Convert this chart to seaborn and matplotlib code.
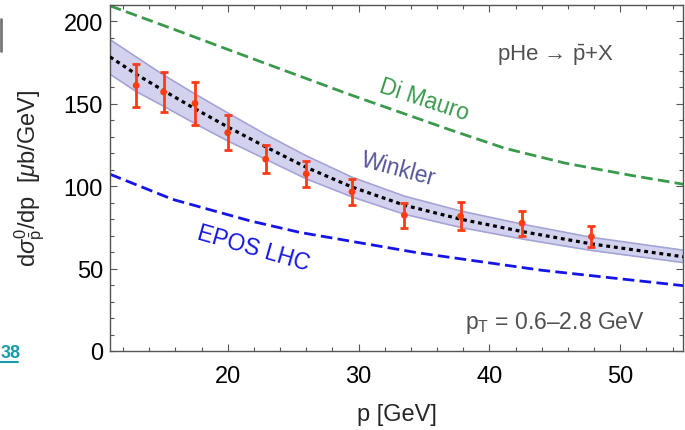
import matplotlib
matplotlib.use("Agg")
import matplotlib.pyplot as plt
import seaborn as sns
import pandas as pd
from matplotlib.lines import Line2D

# ---------------- data ----------------
data_p = [13.0, 15.1, 17.5, 20.0, 22.9, 26.0, 29.5, 33.5, 37.8, 42.5, 47.8]
data_val = [161.2, 157.2, 150.3, 132.5, 116.4, 107.5, 96.6, 82.4, 81.8, 77.6, 69.4]
data_err = [13.0, 12.0, 13.0, 10.5, 8.4, 8.0, 8.0, 7.5, 8.5, 7.6, 6.4]

winkler_p = [11, 13, 15, 17.5, 20, 23, 26, 29.5, 33.5, 37.8, 42.5, 47.8, 55]
winkler_c = [178.5, 168, 158.5, 147, 136, 123.5, 111.5, 99.5, 88.5, 80, 72.5, 65, 57]
winkler_hi = [189, 178.5, 168, 156, 144.5, 131, 118.5, 105.5, 94, 85, 77, 69, 61]
winkler_lo = [168, 157.5, 149, 138, 127.5, 116, 104.5, 93.5, 83, 75, 68, 61, 53.5]

dimauro_p = [11, 15.8, 21.7, 29.2, 36.9, 41.2, 45.8, 50.9, 55]
dimauro_v = [209.5, 195.5, 178, 156, 134.5, 123, 114, 106.5, 101]

epos_p = [11, 15.8, 21.7, 25.5, 34.6, 38.2, 44, 55]
epos_v = [107.3, 92, 79, 72, 59.5, 55.5, 49, 39.5]

x_ticks = [20, 30, 40, 50]
y_ticks = [0, 50, 100, 150, 200]

# ---------------- style ----------------
sns.set_style("ticks")
plt.rcParams["font.family"] = ["Liberation Sans", "DejaVu Sans"]
plt.rcParams["mathtext.fontset"] = "custom"
plt.rcParams["mathtext.rm"] = "Liberation Sans"
plt.rcParams["mathtext.it"] = "Liberation Sans:italic"
plt.rcParams["mathtext.bf"] = "Liberation Sans:bold"

fig = plt.figure(figsize=(6.85, 4.31), dpi=100)
ax = fig.add_axes([110 / 685, 79 / 431, 573 / 685, 346 / 431])

GREEN = "#3a9a4c"
BLUE = "#1414e6"
BAND = "#d2d2ee"
BAND_EDGE = "#a4a4d6"
RED = "#ff3a14"
GRAY = "#555555"

# Winkler band
ax.fill_between(winkler_p, winkler_lo, winkler_hi, color=BAND, lw=0, zorder=1)
ax.plot(winkler_p, winkler_hi, color=BAND_EDGE, lw=1.2, zorder=1.5)
ax.plot(winkler_p, winkler_lo, color=BAND_EDGE, lw=1.2, zorder=1.5)

df_w = pd.DataFrame({"p": winkler_p, "v": winkler_c})
sns.lineplot(data=df_w, x="p", y="v", ax=ax, color="black", lw=2.3,
             linestyle=(0, (1.2, 1.2)), zorder=3)

df_d = pd.DataFrame({"p": dimauro_p, "v": dimauro_v})
sns.lineplot(data=df_d, x="p", y="v", ax=ax, color=GREEN, lw=2.0,
             linestyle=(0, (4.2, 1.9)), zorder=2)

df_e = pd.DataFrame({"p": epos_p, "v": epos_v})
sns.lineplot(data=df_e, x="p", y="v", ax=ax, color=BLUE, lw=2.0,
             linestyle=(0, (4.2, 1.9)), zorder=2)

# data points
ax.errorbar(data_p, data_val, yerr=data_err, fmt="none", ecolor=RED,
            elinewidth=2.0, capsize=2.8, capthick=2.0, zorder=4)
df_pts = pd.DataFrame({"p": data_p, "v": data_val})
sns.scatterplot(data=df_pts, x="p", y="v", ax=ax, color=RED, s=24,
                edgecolor="none", zorder=5)

# axes
ax.set_xlim(11, 54.8)
ax.set_ylim(0, 210)
ax.set_xticks(x_ticks)
ax.set_yticks(y_ticks)
ax.set_xticks(range(12, 56, 2), minor=True)
ax.set_yticks(range(0, 211, 10), minor=True)
ax.tick_params(which="both", direction="in", top=True, right=True,
               color=GRAY, width=0.8, labelsize=17, labelcolor="black")
ax.tick_params(which="major", length=5)
ax.tick_params(which="minor", length=3)
ax.tick_params(axis="x", which="major", pad=10)
ax.tick_params(axis="y", which="major", pad=5)
for s in ax.spines.values():
    s.set_color(GRAY)
    s.set_linewidth(1.0)

ax.set_xlabel("p [GeV]", fontsize=17)
ax.set_ylabel(r"$\mathregular{d}\sigma^{0}_{\bar{\mathregular{p}}}\mathregular{/dp}\ \ [\mu\mathregular{b/GeV}]$",
              fontsize=17)
ax.xaxis.set_label_coords(0.5, (352 - 404) / 346)
ax.yaxis.set_label_coords((47 - 110) / 573, 0.503)

# annotations
ax.text(0.548, 0.728, "Di Mauro", transform=ax.transAxes, color=GREEN,
        fontsize=16.5, rotation=-18, ha="center", va="center")
ax.text(0.504, 0.526, "Winkler", transform=ax.transAxes, color="#55559a",
        fontsize=16.5, rotation=-15, ha="center", va="center")
ax.text(0.251, 0.30, "EPOS LHC", transform=ax.transAxes, color=BLUE,
        fontsize=16.5, rotation=-16, ha="center", va="center")
ax.text(0.777, 0.858, r"pHe → $\bar{\mathregular{p}}$+X", transform=ax.transAxes,
        color="#505050", fontsize=16, ha="center", va="center")
ax.text(0.777, 0.084, r"p$_\mathregular{T}$ = 0.6–2.8 GeV", transform=ax.transAxes,
        color="#505050", fontsize=16.5, ha="center", va="center")

# stray artifacts at the left edge of the crop
fig.text(0.5 / 685, 1 - 354 / 431, "38", color="#1a9aa8", fontsize=13,
         fontweight="bold", ha="left", va="center")
fig.add_artist(Line2D([0, 18 / 685], [1 - 363 / 431, 1 - 363 / 431],
                      color="#1a9aa8", lw=1.5, transform=fig.transFigure))
fig.add_artist(Line2D([1 / 685, 1 / 685], [1 - 20 / 431, 1 - 52 / 431],
                      color="#777777", lw=2, transform=fig.transFigure))

fig.savefig("out.png", dpi=100)
